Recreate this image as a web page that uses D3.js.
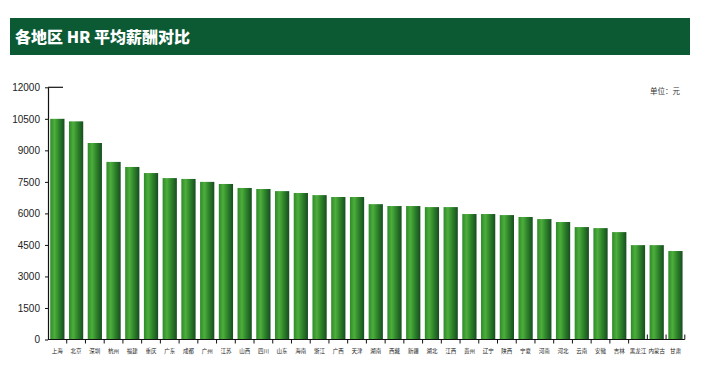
<!DOCTYPE html>
<html>
<head>
<meta charset="utf-8">
<script src="https://cdn.jsdelivr.net/npm/d3@7"></script>
<style>
  html, body { margin: 0; padding: 0; background: #ffffff; }
  svg { display: block; }
</style>
</head>
<body>
<svg id="chart"></svg>
<script>
const regions = ["上海", "北京", "深圳", "杭州", "福建", "重庆", "广东", "成都", "广州", "江苏",
  "山西", "四川", "山东", "海南", "浙江", "广西", "天津", "湖南", "西藏", "新疆",
  "湖北", "江西", "贵州", "辽宁", "陕西", "宁夏", "河南", "河北", "云南", "安徽",
  "吉林", "黑龙江", "内蒙古", "甘肃"];

const salaries = [10500, 10380, 9350, 8450, 8210, 7920, 7680, 7640, 7500, 7400,
  7210, 7160, 7060, 6970, 6870, 6780, 6780, 6440, 6350, 6350,
  6300, 6300, 5970, 5970, 5920, 5830, 5730, 5590, 5350, 5300,
  5110, 4490, 4490, 4210];

const yTicks = [0, 1500, 3000, 4500, 6000, 7500, 9000, 10500, 12000];

const titleText = "各地区 HR 平均薪酬对比";
const unitText = "单位：元";

const width = 710;
const height = 366;
const plot = { left: 48, right: 684.8, top: 87.3, bottom: 339.5 };

const svg = d3.select("#chart").attr("width", width).attr("height", height);

// bar gradient, light on the left, dark on the right
const grad = svg.append("defs")
  .append("linearGradient")
  .attr("id", "barGrad")
  .attr("x1", "0%").attr("x2", "100%")
  .attr("y1", "0%").attr("y2", "0%");
grad.append("stop").attr("offset", "0%").attr("stop-color", "#2e8a2a");
grad.append("stop").attr("offset", "30%").attr("stop-color", "#4dae3b");
grad.append("stop").attr("offset", "60%").attr("stop-color", "#2f852b");
grad.append("stop").attr("offset", "100%").attr("stop-color", "#164d20");

// title banner
svg.append("rect")
  .attr("x", 10).attr("y", 18)
  .attr("width", 680).attr("height", 37)
  .attr("fill", "#0b5a34");

svg.append("text")
  .attr("x", 15).attr("y", 43)
  .style("font-family", "'Noto Sans CJK SC', 'Noto Sans', sans-serif")
  .style("font-size", "16px")
  .style("font-weight", "900")
  .style("fill", "#ffffff")
  .text(titleText);

svg.append("text")
  .attr("x", 680).attr("y", 94)
  .attr("text-anchor", "end")
  .style("font-family", "'Noto Sans CJK SC', sans-serif")
  .style("font-size", "7.5px")
  .style("fill", "#333333")
  .text(unitText);

const xScale = d3.scaleBand()
  .domain(regions)
  .range([plot.left, plot.right])
  .paddingInner(0.24)
  .paddingOuter(0.12);

const yScale = d3.scaleLinear()
  .domain([0, 12000])
  .range([plot.bottom, plot.top]);

svg.selectAll(".bar")
  .data(regions)
  .enter()
  .append("rect")
  .attr("class", "bar")
  .attr("x", function (d) {
    return xScale(d);
  })
  .attr("y", function (d, i) {
    return yScale(salaries[i]);
  })
  .attr("width", xScale.bandwidth())
  .attr("height", function (d, i) {
    return yScale(0) - yScale(salaries[i]);
  })
  .attr("fill", "url(#barGrad)");

// y axis
const yAxis = svg.append("g")
  .attr("transform", "translate(" + plot.left + ",0)")
  .call(d3.axisLeft(yScale).tickValues(yTicks).tickFormat(d3.format("d")).tickSize(3).tickSizeOuter(0));
yAxis.select(".domain").attr("stroke", "#111111").attr("stroke-width", 1.2);
yAxis.selectAll(".tick line").attr("stroke", "#111111");
yAxis.selectAll("text")
  .attr("x", -8)
  .style("font-family", "'Liberation Sans', Arial, sans-serif")
  .style("font-size", "10px")
  .style("fill", "#222222");

// short line at the top of the axis
svg.append("line")
  .attr("x1", plot.left).attr("x2", plot.left + 15)
  .attr("y1", yScale(12000)).attr("y2", yScale(12000))
  .attr("stroke", "#111111")
  .attr("stroke-width", 1.2);

// x axis baseline with ticks between the bars
svg.append("line")
  .attr("x1", plot.left).attr("x2", plot.right)
  .attr("y1", yScale(0)).attr("y2", yScale(0))
  .attr("stroke", "#111111")
  .attr("stroke-width", 1.2);

const step = xScale.step();
svg.selectAll(".xtick")
  .data(regions.slice(1).concat(["end"]))
  .enter()
  .append("line")
  .attr("class", "xtick")
  .attr("x1", function (d, i) {
    return xScale(regions[0]) - xScale.paddingOuter() * step + (i + 1) * step;
  })
  .attr("x2", function (d, i) {
    return xScale(regions[0]) - xScale.paddingOuter() * step + (i + 1) * step;
  })
  .attr("y1", yScale(0))
  .attr("y2", function (d, i) {
    return i >= regions.length - 3 ? yScale(0) - 5 : yScale(0) + 4;
  })
  .attr("stroke", "#111111")
  .attr("stroke-width", 1);

svg.selectAll(".xlabel")
  .data(regions)
  .enter()
  .append("text")
  .attr("class", "xlabel")
  .attr("x", function (d) {
    return xScale(d) + xScale.bandwidth() / 2;
  })
  .attr("y", yScale(0) + 13)
  .attr("text-anchor", "middle")
  .style("font-family", "'Noto Sans CJK SC', sans-serif")
  .style("font-size", "5.5px")
  .style("fill", "#222222")
  .text(function (d) {
    return d;
  });
</script>
</body>
</html>
